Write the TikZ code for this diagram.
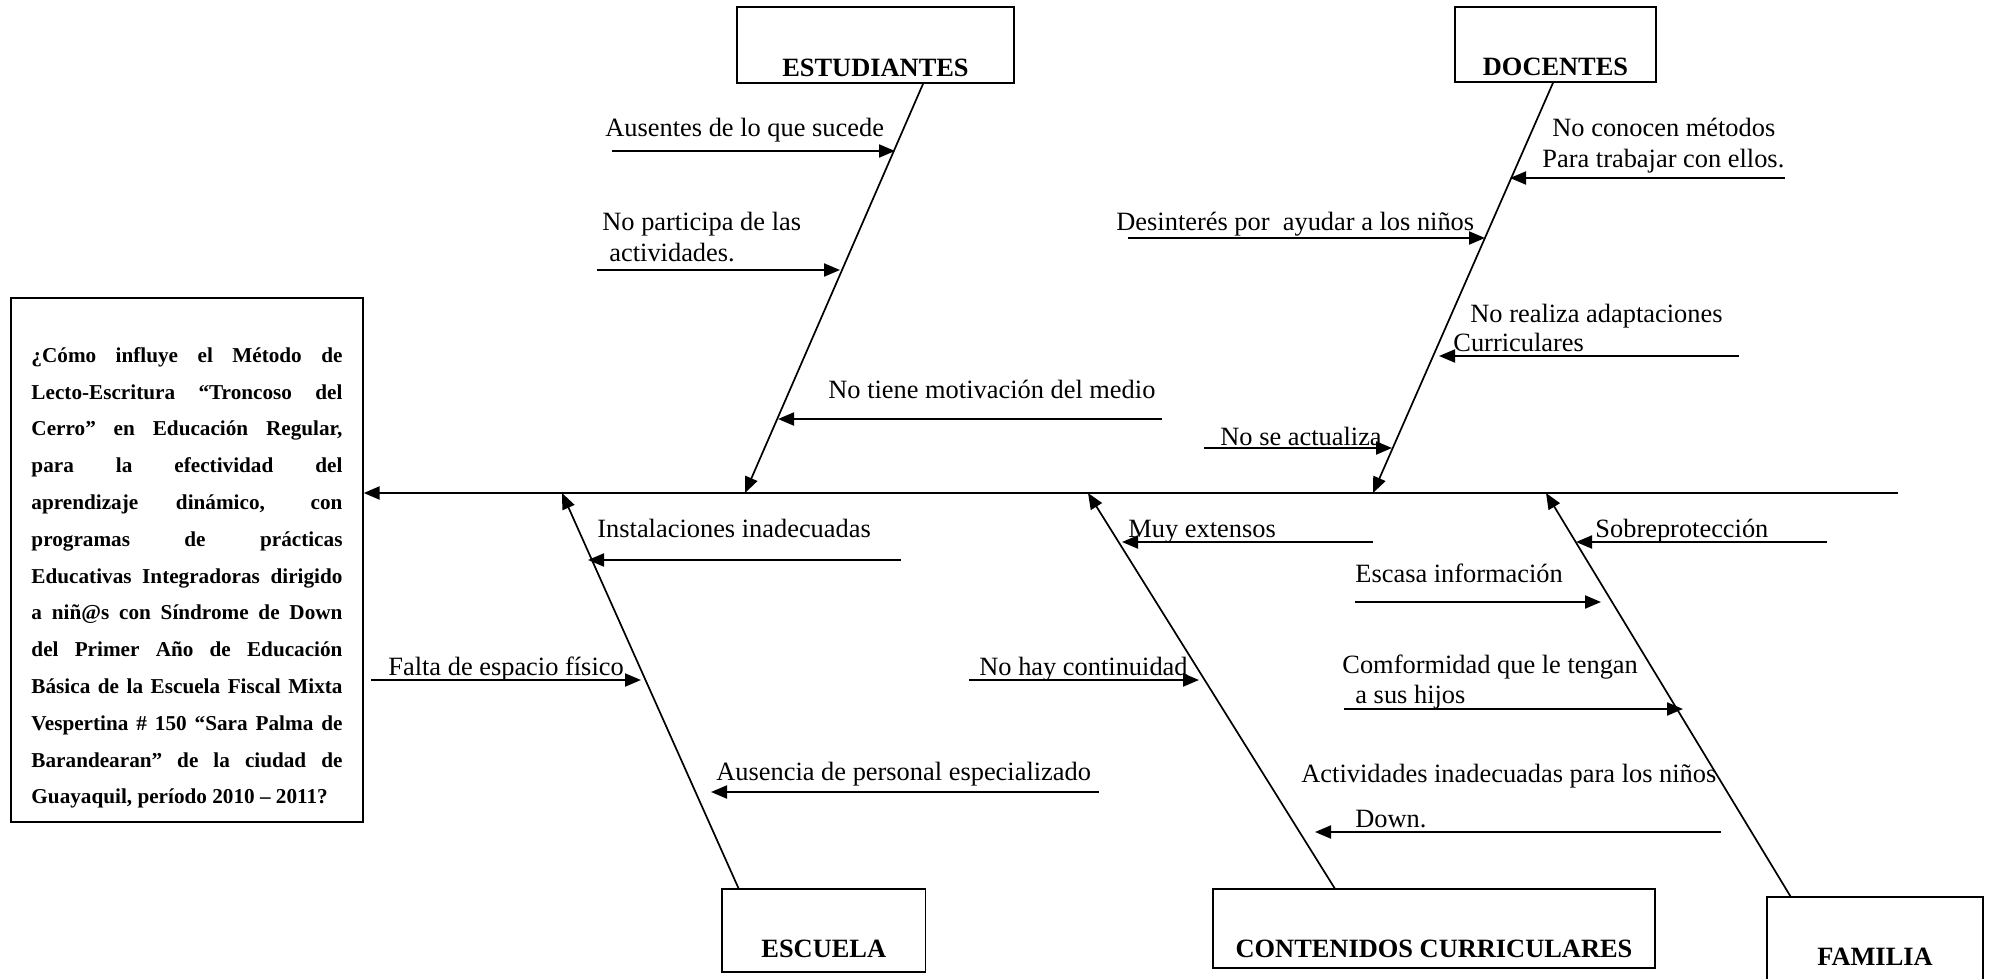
\documentclass[tikz,border=0pt]{standalone}
\usepackage{fontspec}
\setmainfont{Liberation Serif}
\usetikzlibrary{arrows.meta, calc}

\begin{document}
\begin{tikzpicture}[x=.5pt, y=-.5pt, >={Triangle[length=8pt,width=6.5pt]},
    caja/.style={draw, line width=.7pt, inner sep=0pt, font=\bfseries\fontsize{13.2}{15}\selectfont},
    lbl/.style={anchor=base west, inner sep=0pt, font=\fontsize{13.2}{15}\selectfont},
    causa/.style={->, line width=1pt},
    hueso/.style={->, line width=.85pt},
    espina/.style={->, line width=1.2pt}]

\useasboundingbox (0,0) rectangle (1991,979);

% y of the main spine
\def\yesp{493}

% Macro for one cause arrow: free end and tip on the same row
% Usage: \causa{name}{x free end}{x tip}{y}
\newcommand{\causa}[4]{
    \coordinate (#1 a) at (#2,#4);
    \coordinate (#1) at (#3,#4);
    \draw[causa] (#1 a) -- (#1);
}

% --- Problem box and spine ---
\node[draw, line width=.7pt, minimum width=176pt, minimum height=262pt, inner sep=0pt] (pregunta) at (187,560) {};
\node[inner sep=0pt, text width=155.5pt, align=justify,
      font=\bfseries\fontsize{10.6}{18.4}\selectfont] (pregunta txt) at (187,578)
    {¿Cómo influye el Método de\linebreak
     Lecto-Escritura “Troncoso del\linebreak
     Cerro” en Educación Regular,\linebreak
     para la efectividad del\linebreak
     aprendizaje dinámico, con\linebreak
     programas de prácticas\linebreak
     Educativas Integradoras dirigido\linebreak
     a niñ@s con Síndrome de Down\linebreak
     del Primer Año de Educación\linebreak
     Básica de la Escuela Fiscal Mixta\linebreak
     Vespertina \# 150 “Sara Palma de\linebreak
     Barandearan” de la ciudad de\linebreak
     Guayaquil, período 2010 – 2011?};

\coordinate (cola) at (1898,\yesp);
\draw[espina] (cola) -- (cola -| pregunta.east);

% --- Estudiantes ---
\node[caja, minimum width=138.5pt, text height=35pt, text depth=3pt] (est) at (875.5,45) {ESTUDIANTES};
\coordinate (est espina) at (745,\yesp);
\draw[hueso] ($(est.south west)!.671!(est.south east)$) -- (est espina);
\causa{ea1}{612}{895}{151}
\causa{ea2}{597}{840}{270}
\causa{ea3}{1162}{778}{419}
\foreach \n/\x/\y/\t in {el1/605/137/Ausentes de lo que sucede,
                         el2/602/230/No participa de las,
                         el3/609/261/actividades.,
                         el4/828/398/No tiene motivación del medio} {
    \node[lbl] (\n) at (\x,\y) {\t};
}

% --- Docentes ---
\node[caja, minimum width=100.5pt, text height=34.5pt, text depth=3pt] (doc) at (1555.5,44.5) {DOCENTES};
\coordinate (doc espina) at (1373,\yesp);
\draw[hueso] ($(doc.south west)!.488!(doc.south east)$) -- (doc espina);
\causa{da1}{1785}{1510}{178}
\causa{da2}{1128}{1485}{238}
\causa{da3}{1739}{1439}{356}
\causa{da4}{1204}{1392}{448}
\foreach \n/\x/\y/\t in {dl1/1552/137/No conocen métodos,
                         dl2/1542/168/Para trabajar con ellos.,
                         dl3/1116/230/Desinterés por\ \ ayudar a los niños,
                         dl4/1470/322/No realiza adaptaciones,
                         dl5/1453/351/Curriculares,
                         dl6/1220/445/No se actualiza} {
    \node[lbl] (\n) at (\x,\y) {\t};
}

% --- Escuela ---
\node[caja, minimum width=101.75pt, text height=34pt, text depth=7.5pt] (esc) at (823.75,930.5) {ESCUELA};
\coordinate (esc espina) at (562,\yesp);
\draw[hueso] ($(esc.north west)!.084!(esc.north east)$) -- (esc espina);
\causa{sa1}{901}{588}{560}
\causa{sa2}{371}{641}{680}
\causa{sa3}{1099}{711}{792}
\foreach \n/\x/\y/\t in {sl1/597/537/Instalaciones inadecuadas,
                         sl2/388/675/Falta de espacio físico,
                         sl3/716/780/Ausencia de personal especializado} {
    \node[lbl] (\n) at (\x,\y) {\t};
}

% --- Contenidos curriculares ---
\node[caja, minimum width=221pt, text height=34pt, text depth=5.5pt] (con) at (1434,928.5) {CONTENIDOS CURRICULARES};
\coordinate (con espina) at (1088,\yesp);
\draw[hueso] ($(con.north west)!.276!(con.north east)$) -- (con espina);
\causa{ca1}{1373}{1122}{542}
\causa{ca2}{969}{1199}{680}
\causa{ca3}{1721}{1315}{832}
\foreach \n/\x/\y/\t in {cl1/1128/537/Muy extensos,
                         cl2/979/675/No hay continuidad,
                         cl3/1301/782/Actividades inadecuadas para los niños,
                         cl4/1355/827/Down.} {
    \node[lbl] (\n) at (\x,\y) {\t};
}

% --- Familia ---
\node[caja, minimum width=108pt, text height=34pt, text depth=19pt] (fam) at (1875,950) {FAMILIA};
\coordinate (fam espina) at (1546,\yesp);
\draw[hueso] ($(fam.north west)!.111!(fam.north east)$) -- (fam espina);
\causa{fa1}{1827}{1576}{542}
\causa{fa2}{1355}{1601}{602}
\causa{fa3}{1344}{1683}{709}
\foreach \n/\x/\y/\t in {fl1/1595/537/Sobreprotección,
                         fl2/1355/582/Escasa información,
                         fl3/1342/673/Comformidad que le tengan,
                         fl4/1355/703/a sus hijos} {
    \node[lbl] (\n) at (\x,\y) {\t};
}

\end{tikzpicture}
\end{document}
